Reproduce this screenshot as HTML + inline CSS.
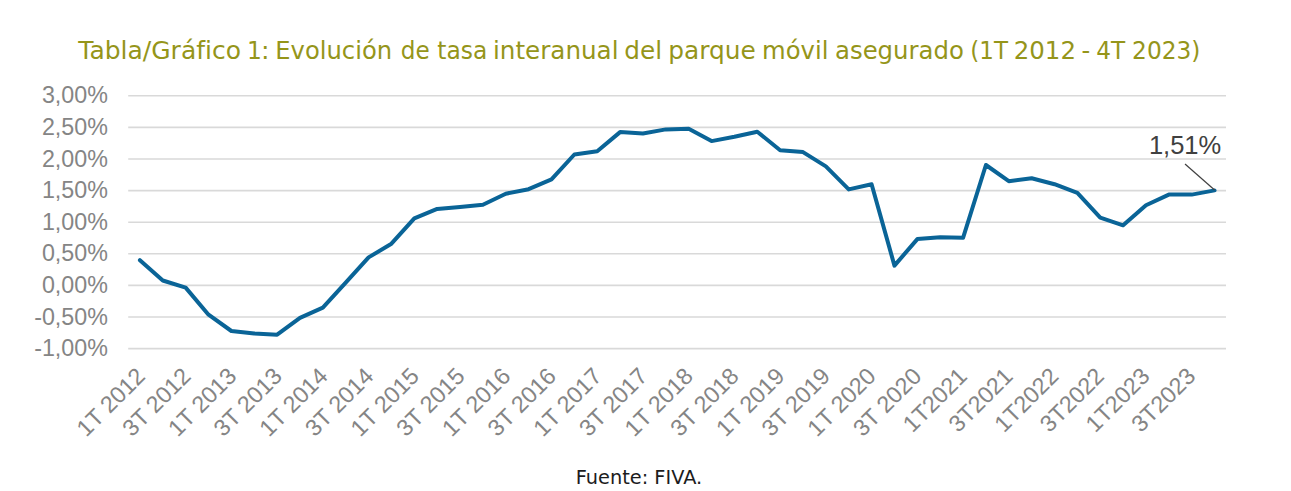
<!DOCTYPE html>
<html lang="es"><head><meta charset="utf-8"><title>Tabla/Gráfico 1: Evolución de tasa interanual del parque móvil asegurado</title>
<style>
html,body{margin:0;padding:0;background:#fff;}
body{width:1291px;height:491px;overflow:hidden;}
svg{display:block;}
.tt{font-family:"DejaVu Sans",sans-serif;font-size:25.4px;fill:#95951a;}
.ft{font-family:"DejaVu Sans",sans-serif;font-size:19.7px;fill:#1c1c1c;}
.ay{font-family:"Liberation Sans",Arial,sans-serif;font-size:24px;fill:#858585;}
.ax{font-family:"Liberation Sans",Arial,sans-serif;font-size:23.3px;fill:#858585;}
.dl{font-family:"Liberation Sans",Arial,sans-serif;font-size:25px;fill:#404040;}
</style></head><body>
<svg width="1291" height="491" viewBox="0 0 1291 491">
<g><text class="tt" transform="translate(78.30,59.0) scale(0.9837,1)">Tabla/Gráfico</text><text class="tt" transform="translate(246.94,59.0) scale(0.9200,1)">1</text><text class="tt" transform="translate(261.12,59.0) scale(1.0000,1)">:</text><text class="tt" transform="translate(275.28,59.0) scale(0.9545,1)">Evolución</text><text class="tt" transform="translate(400.86,59.0) scale(0.9103,1)">de</text><text class="tt" transform="translate(437.27,59.0) scale(0.9203,1)">tasa</text><text class="tt" transform="translate(492.94,59.0) scale(0.9698,1)">interanual</text><text class="tt" transform="translate(624.37,59.0) scale(0.9733,1)">del</text><text class="tt" transform="translate(668.31,59.0) scale(0.9786,1)">parque</text><text class="tt" transform="translate(762.07,59.0) scale(0.9565,1)">móvil</text><text class="tt" transform="translate(835.01,59.0) scale(0.9598,1)">asegurado</text><text class="tt" transform="translate(970.36,59.0) scale(0.9061,1)">(1T</text><text class="tt" transform="translate(1013.72,59.0) scale(0.9645,1)">2012</text><text class="tt" transform="translate(1081.50,59.0) scale(0.9520,1)">-</text><text class="tt" transform="translate(1096.35,59.0) scale(0.9127,1)">4T</text><text class="tt" transform="translate(1132.10,59.0) scale(0.9170,1)">2023)</text></g>
<line x1="128.2" y1="95.80" x2="1226.0" y2="95.80" stroke="#d9d9d9" stroke-width="1.6"/>
<line x1="128.2" y1="127.40" x2="1226.0" y2="127.40" stroke="#d9d9d9" stroke-width="1.6"/>
<line x1="128.2" y1="159.00" x2="1226.0" y2="159.00" stroke="#d9d9d9" stroke-width="1.6"/>
<line x1="128.2" y1="190.60" x2="1226.0" y2="190.60" stroke="#d9d9d9" stroke-width="1.6"/>
<line x1="128.2" y1="222.20" x2="1226.0" y2="222.20" stroke="#d9d9d9" stroke-width="1.6"/>
<line x1="128.2" y1="253.80" x2="1226.0" y2="253.80" stroke="#d9d9d9" stroke-width="1.6"/>
<line x1="128.2" y1="285.40" x2="1226.0" y2="285.40" stroke="#d9d9d9" stroke-width="1.6"/>
<line x1="128.2" y1="317.00" x2="1226.0" y2="317.00" stroke="#d9d9d9" stroke-width="1.6"/>
<line x1="128.2" y1="348.60" x2="1226.0" y2="348.60" stroke="#d9d9d9" stroke-width="1.6"/>
<text transform="translate(107.9,103.30) scale(0.97,1)" text-anchor="end" class="ay">3,00%</text>
<text transform="translate(107.9,134.90) scale(0.97,1)" text-anchor="end" class="ay">2,50%</text>
<text transform="translate(107.9,166.50) scale(0.97,1)" text-anchor="end" class="ay">2,00%</text>
<text transform="translate(107.9,198.10) scale(0.97,1)" text-anchor="end" class="ay">1,50%</text>
<text transform="translate(107.9,229.70) scale(0.97,1)" text-anchor="end" class="ay">1,00%</text>
<text transform="translate(107.9,261.30) scale(0.97,1)" text-anchor="end" class="ay">0,50%</text>
<text transform="translate(107.9,292.90) scale(0.97,1)" text-anchor="end" class="ay">0,00%</text>
<text transform="translate(107.9,324.50) scale(0.97,1)" text-anchor="end" class="ay">-0,50%</text>
<text transform="translate(107.9,356.10) scale(0.97,1)" text-anchor="end" class="ay">-1,00%</text>
<text transform="translate(146.53,377.60) rotate(-45)" text-anchor="end" class="ax">1T 2012</text>
<text transform="translate(192.20,377.60) rotate(-45)" text-anchor="end" class="ax">3T 2012</text>
<text transform="translate(237.86,377.60) rotate(-45)" text-anchor="end" class="ax">1T 2013</text>
<text transform="translate(283.52,377.60) rotate(-45)" text-anchor="end" class="ax">3T 2013</text>
<text transform="translate(329.19,377.60) rotate(-45)" text-anchor="end" class="ax">1T 2014</text>
<text transform="translate(374.85,377.60) rotate(-45)" text-anchor="end" class="ax">3T 2014</text>
<text transform="translate(420.52,377.60) rotate(-45)" text-anchor="end" class="ax">1T 2015</text>
<text transform="translate(466.18,377.60) rotate(-45)" text-anchor="end" class="ax">3T 2015</text>
<text transform="translate(511.84,377.60) rotate(-45)" text-anchor="end" class="ax">1T 2016</text>
<text transform="translate(557.51,377.60) rotate(-45)" text-anchor="end" class="ax">3T 2016</text>
<text transform="translate(603.17,377.60) rotate(-45)" text-anchor="end" class="ax">1T 2017</text>
<text transform="translate(648.84,377.60) rotate(-45)" text-anchor="end" class="ax">3T 2017</text>
<text transform="translate(694.50,377.60) rotate(-45)" text-anchor="end" class="ax">1T 2018</text>
<text transform="translate(740.16,377.60) rotate(-45)" text-anchor="end" class="ax">3T 2018</text>
<text transform="translate(785.83,377.60) rotate(-45)" text-anchor="end" class="ax">1T 2019</text>
<text transform="translate(831.49,377.60) rotate(-45)" text-anchor="end" class="ax">3T 2019</text>
<text transform="translate(877.16,377.60) rotate(-45)" text-anchor="end" class="ax">1T 2020</text>
<text transform="translate(922.82,377.60) rotate(-45)" text-anchor="end" class="ax">3T 2020</text>
<text transform="translate(968.48,377.60) rotate(-45)" text-anchor="end" class="ax">1T2021</text>
<text transform="translate(1014.15,377.60) rotate(-45)" text-anchor="end" class="ax">3T2021</text>
<text transform="translate(1059.81,377.60) rotate(-45)" text-anchor="end" class="ax">1T2022</text>
<text transform="translate(1105.48,377.60) rotate(-45)" text-anchor="end" class="ax">3T2022</text>
<text transform="translate(1151.14,377.60) rotate(-45)" text-anchor="end" class="ax">1T2023</text>
<text transform="translate(1196.80,377.60) rotate(-45)" text-anchor="end" class="ax">3T2023</text>
<polyline points="139.93,260.20 162.80,280.50 185.66,287.60 208.53,314.70 231.39,331.00 254.26,333.50 277.12,334.70 299.98,317.80 322.85,307.70 345.71,282.70 368.58,257.40 391.44,243.70 414.31,218.30 437.17,208.90 460.04,206.90 482.90,204.80 505.77,193.70 528.63,189.20 551.49,179.40 574.36,154.50 597.22,151.20 620.09,132.10 642.95,133.50 665.82,129.40 688.68,128.80 711.55,141.10 734.41,136.80 757.28,131.70 780.14,150.30 803.01,152.10 825.87,166.40 848.73,189.40 871.60,184.30 894.46,265.60 917.33,239.10 940.19,237.30 963.06,237.80 985.92,165.00 1008.79,181.20 1031.65,178.30 1054.52,184.20 1077.38,192.80 1100.24,217.70 1123.11,225.30 1145.97,205.20 1168.84,194.60 1191.70,194.60 1214.57,190.40" fill="none" stroke="#0a6497" stroke-width="4.0" stroke-linejoin="round" stroke-linecap="round"/>
<line x1="1214.6" y1="190" x2="1185" y2="164" stroke="#404040" stroke-width="1.2"/>
<text class="dl" transform="translate(1148.9,153.8) scale(1.02,1)">1,51%</text>
<text class="ft" transform="translate(575.7,483.6) scale(0.983,1)">Fuente: FIVA.</text>
</svg>
</body></html>
